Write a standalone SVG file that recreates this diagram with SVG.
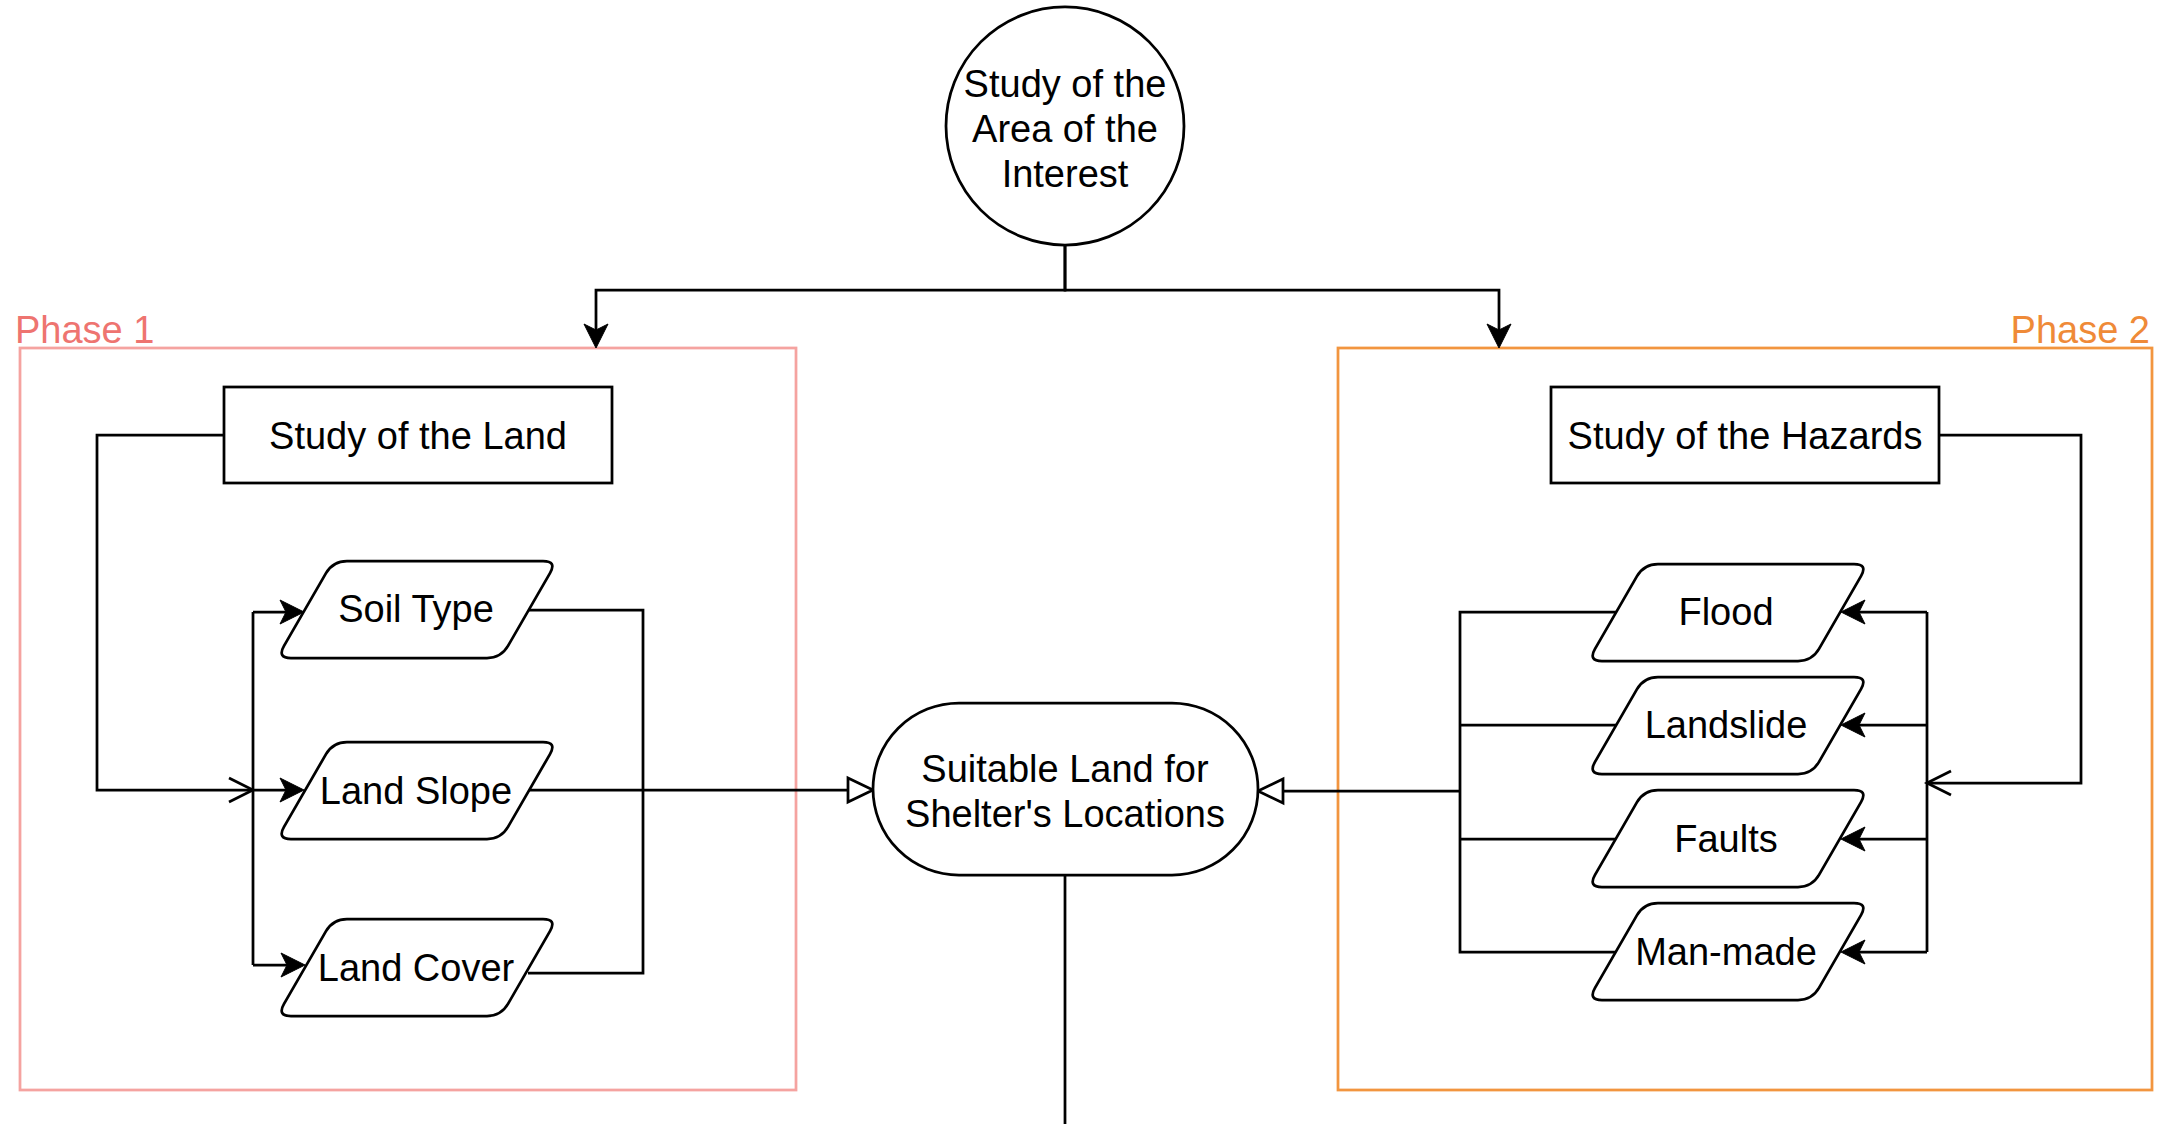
<svg xmlns="http://www.w3.org/2000/svg" xmlns:xlink="http://www.w3.org/1999/xlink" width="2172" height="1124" viewBox="0 0 2172 1124">
<style>
  .shape { fill: #ffffff; stroke: #000000; stroke-width: 2.75; }
  .lbl { font-family: "Liberation Sans", Arial, Helvetica, sans-serif; font-size: 38px; fill: #000000; text-anchor: middle; }
  .edge { fill: none; stroke: #000000; stroke-width: 2.75; }
  .phase-title { font-family: "Liberation Sans", Arial, Helvetica, sans-serif; font-size: 38px; }
</style>
<defs>
  <path id="para" d="M70,0 L266,0 Q280,0 273,12.1 L231,84.9 Q224,97 210,97 L14,97 Q0,97 7,84.9 L49,12.1 Q56,0 70,0 Z"/>
  <marker id="classic" markerUnits="userSpaceOnUse" markerWidth="30" markerHeight="30" refX="6" refY="12" orient="auto" overflow="visible">
    <path d="M0,0 L24,12 L0,24 L6,12 Z" fill="#000000" stroke="#000000" stroke-width="1" stroke-linejoin="miter"/>
  </marker>
  <marker id="open" markerUnits="userSpaceOnUse" markerWidth="30" markerHeight="30" refX="24" refY="12" orient="auto" overflow="visible">
    <path d="M0,0 L24,12 L0,24" fill="none" stroke="#000000" stroke-width="2.75"/>
  </marker>
  <marker id="block" markerUnits="userSpaceOnUse" markerWidth="30" markerHeight="30" refX="0" refY="12" orient="auto" overflow="visible">
    <path d="M0,0 L25,12 L0,24 Z" fill="#ffffff" stroke="#000000" stroke-width="2.75"/>
  </marker>
</defs>
<rect x="0" y="0" width="2172" height="1124" fill="#ffffff"/>

<!-- Phase containers -->
<g id="phase1">
  <rect x="20" y="348" width="776" height="742" fill="none" stroke="#F5A3A0" stroke-width="2.75"/>
  <text class="phase-title" x="15" y="343" fill="#EE7470">Phase 1</text>
</g>
<g id="phase2">
  <rect x="1338" y="348" width="814" height="742" fill="none" stroke="#F2953F" stroke-width="2.75"/>
  <text class="phase-title" x="2150" y="343" fill="#EF8A38" text-anchor="end">Phase 2</text>
</g>

<!-- Connectors -->
<g id="connectors">
  <path class="edge" d="M1065,245 V290 H596 V330" marker-end="url(#classic)"/>
  <path class="edge" d="M1065,245 V290 H1499 V330" marker-end="url(#classic)"/>

  <path class="edge" d="M224,435 H97 V790 H253" marker-end="url(#open)"/>
  <path class="edge" d="M253,612 V965"/>
  <path class="edge" d="M253,612 H286" marker-end="url(#classic)"/>
  <path class="edge" d="M253,790 H286" marker-end="url(#classic)"/>
  <path class="edge" d="M253,965 H287" marker-end="url(#classic)"/>

  <path class="edge" d="M529,610 H643 V790"/>
  <path class="edge" d="M528,973 H643 V790"/>
  <path class="edge" d="M529,790 H848" marker-end="url(#block)"/>

  <path class="edge" d="M1939,435 H2081 V783 H1927" marker-end="url(#open)"/>
  <path class="edge" d="M1927,612 V952"/>
  <path class="edge" d="M1927,612 H1859" marker-end="url(#classic)"/>
  <path class="edge" d="M1927,725 H1859" marker-end="url(#classic)"/>
  <path class="edge" d="M1927,839 H1859" marker-end="url(#classic)"/>
  <path class="edge" d="M1927,952 H1859" marker-end="url(#classic)"/>

  <path class="edge" d="M1616,612 H1460 V952 H1616"/>
  <path class="edge" d="M1616,725 H1460"/>
  <path class="edge" d="M1616,839 H1460"/>
  <path class="edge" d="M1460,791 H1283" marker-end="url(#block)"/>

  <path class="edge" d="M1065,875 V1124"/>
</g>

<!-- Nodes -->
<g id="study-area">
  <circle class="shape" cx="1065" cy="126" r="119"/>
  <text class="lbl" x="1065" y="97">Study of the</text>
  <text class="lbl" x="1065" y="142">Area of the</text>
  <text class="lbl" x="1065" y="187">Interest</text>
</g>

<g id="study-land">
  <rect class="shape" x="224" y="387" width="388" height="96"/>
  <text class="lbl" x="418" y="449">Study of the Land</text>
</g>

<g id="soil-type">
  <use href="#para" xlink:href="#para" class="shape" x="277" y="561"/>
  <text class="lbl" x="416" y="622">Soil Type</text>
</g>
<g id="land-slope">
  <use href="#para" xlink:href="#para" class="shape" x="277" y="742"/>
  <text class="lbl" x="416" y="804">Land Slope</text>
</g>
<g id="land-cover">
  <use href="#para" xlink:href="#para" class="shape" x="277" y="919"/>
  <text class="lbl" x="416" y="981">Land Cover</text>
</g>

<g id="suitable-land">
  <rect class="shape" x="873" y="703" width="385" height="172" rx="86" ry="86"/>
  <text class="lbl" x="1065" y="782">Suitable Land for</text>
  <text class="lbl" x="1065" y="827">Shelter's Locations</text>
</g>

<g id="study-hazards">
  <rect class="shape" x="1551" y="387" width="388" height="96"/>
  <text class="lbl" x="1745" y="449">Study of the Hazards</text>
</g>

<g id="flood">
  <use href="#para" xlink:href="#para" class="shape" x="1588" y="564"/>
  <text class="lbl" x="1726" y="625">Flood</text>
</g>
<g id="landslide">
  <use href="#para" xlink:href="#para" class="shape" x="1588" y="677"/>
  <text class="lbl" x="1726" y="738">Landslide</text>
</g>
<g id="faults">
  <use href="#para" xlink:href="#para" class="shape" x="1588" y="790"/>
  <text class="lbl" x="1726" y="852">Faults</text>
</g>
<g id="man-made">
  <use href="#para" xlink:href="#para" class="shape" x="1588" y="903"/>
  <text class="lbl" x="1726" y="965">Man-made</text>
</g>
</svg>
